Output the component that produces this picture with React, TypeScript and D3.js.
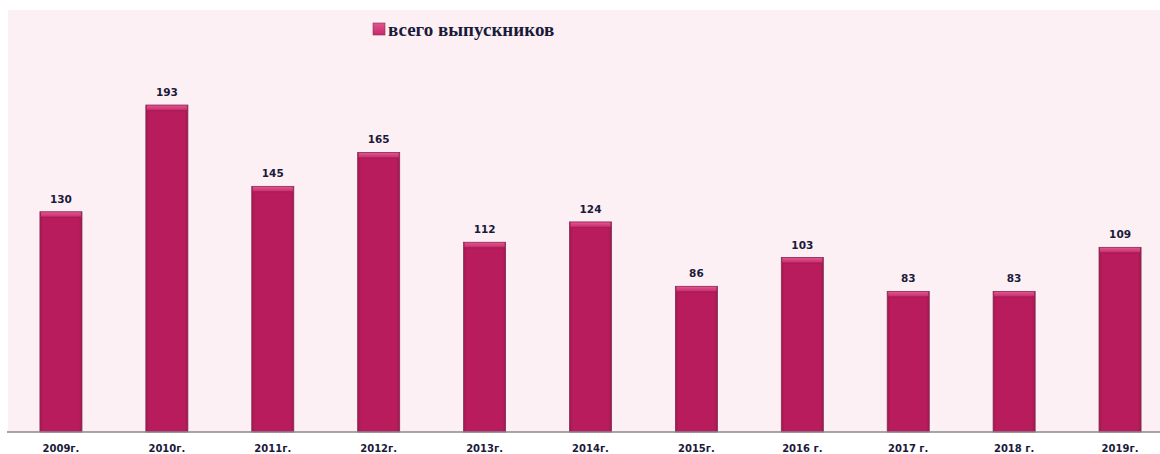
import React from "react";
import * as d3 from "d3";

const categories = ["2009г.", "2010г.", "2011г.", "2012г.", "2013г.", "2014г.", "2015г.", "2016 г.", "2017 г.", "2018 г.", "2019г."];
const values = [130, 193, 145, 165, 112, 124, 86, 103, 83, 83, 109];
const seriesName = "всего выпускников";

const W = 1160;
const H = 454;

export default function App() {
  const x = d3.scaleBand<string>().domain(categories).range([8, 1173]).paddingInner(0.603).paddingOuter(0.3015);
  const y = d3.scaleLinear().domain([0, 255]).range([432, 0]);
  const bw = x.bandwidth();
  return (
    <svg width={W} height={H} style={{ position: "absolute", left: 0, top: 0, background: "#ffffff" }}>
      <defs>
        <linearGradient id="barG" x1="0" x2="1" y1="0" y2="0">
          <stop offset="0" stopColor="#a3164f" />
          <stop offset="0.08" stopColor="#b81c5c" />
          <stop offset="0.92" stopColor="#b81c5c" />
          <stop offset="1" stopColor="#a3164f" />
        </linearGradient>
        <linearGradient id="capG" x1="0" x2="0" y1="0" y2="1">
          <stop offset="0" stopColor="#e4538f" />
          <stop offset="1" stopColor="#c42a69" />
        </linearGradient>
      </defs>
      <rect x={8} y={10} width={W - 8} height={422} fill="#fdf0f5" />
      {categories.map((c, i) => {
        const x0 = x(c)!;
        const yt = y(values[i]);
        return (
          <g key={c}>
            <rect x={x0} y={yt} width={bw} height={y(0) - yt} fill="url(#barG)" stroke="#7d3052" strokeWidth={0.8} />
            <rect x={x0 + 1} y={yt + 0.5} width={bw - 2} height={5} fill="url(#capG)" />
            <line x1={x0 + 1} x2={x0 + bw - 1} y1={yt + 5.5} y2={yt + 5.5} stroke="#9e1a50" strokeWidth={0.8} />
            <text x={x0 + bw / 2} y={yt - 9} textAnchor="middle" fontFamily="DejaVu Sans" fontWeight="bold" fontSize={10.5} fill="#1a1a3a">
              {values[i]}
            </text>
            <text x={x0 + bw / 2} y={452} textAnchor="middle" fontFamily="DejaVu Sans" fontWeight="bold" fontSize={10} fill="#1a1a3a">
              {c}
            </text>
          </g>
        );
      })}
      <line x1={7} x2={W} y1={432} y2={432} stroke="#8a8a8a" strokeWidth={1.5} />
      <rect x={373} y={23} width={12} height={12} fill="url(#capG)" stroke="#8a2a55" strokeWidth={0.6} />
      <text x={388} y={36} fontFamily="Liberation Serif" fontWeight="bold" fontSize={19} fill="#1a1a3a">
        {seriesName}
      </text>
    </svg>
  );
}
